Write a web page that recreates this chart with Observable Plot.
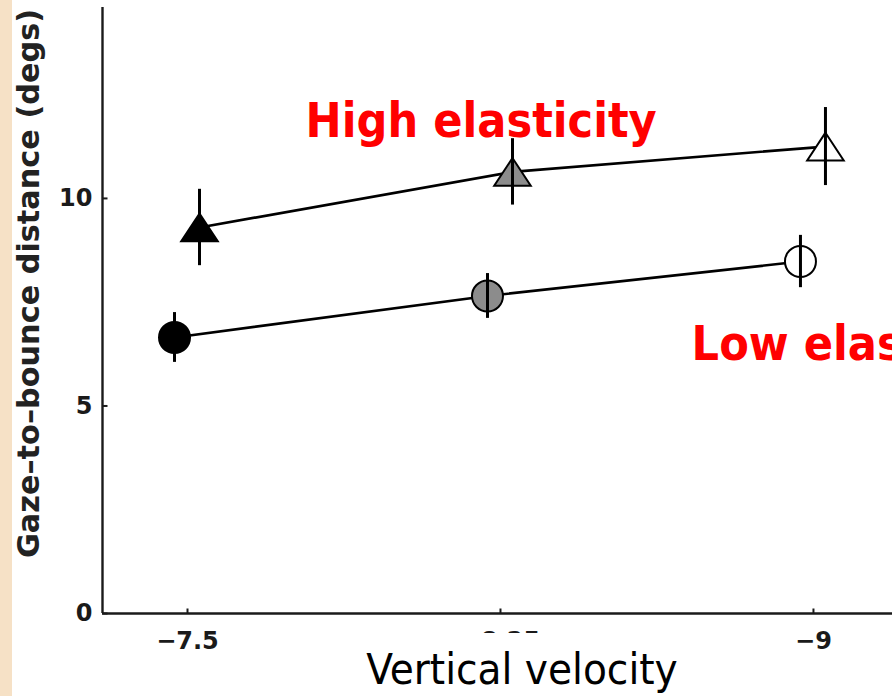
<!DOCTYPE html>
<html>
<head>
<meta charset="utf-8">
<script src="https://cdn.jsdelivr.net/npm/d3@7"></script>
<script src="https://cdn.jsdelivr.net/npm/@observablehq/plot@0.6"></script>
<style>
  html, body { margin: 0; padding: 0; background: #fff; }
  #wrap { position: relative; width: 892px; height: 696px; overflow: hidden; background: #fff; }
  #strip { position: absolute; left: 0; top: 0; width: 12px; height: 696px; background: #f6e1c6; }
  #chart { position: absolute; left: 0; top: 0; }
  #xlabel {
    position: absolute; left: 352px; top: 633px; width: 340px; height: 49px;
    padding-top: 12px; line-height: 49px; background: #fff; color: #000;
    font-family: "DejaVu Sans Condensed", "DejaVu Sans", sans-serif; font-stretch: condensed;
    font-size: 43.5px; text-align: center; white-space: nowrap;
  }
</style>
</head>
<body>
<div id="wrap">
  <div id="chart"></div>
  <div id="strip"></div>
  <div id="xlabel">Vertical velocity</div>
</div>
<script>
// ---- data ----
const velocities = [-7.5, -8.25, -9];
const xTickLabels = ["−7.5", "−8.25", "−9"];
const yTicks = [0, 5, 10];
const xDomain = [-7.2963, -9.1894];
const yDomain = [0, 14.6];

const highMeans = [9.3, 10.64, 11.25];
const highErrors = [0.92, 0.8, 0.94];
const lowMeans = [6.65, 7.65, 8.48];
const lowErrors = [0.6, 0.54, 0.63];

const annotationLabels = ["High elasticity", "Low elasticity"];
const annotationX = [-7.783, -8.708];
const annotationY = [11.47, 6.1];

const yLabel = "Gaze–to–bounce distance (degs)";

// ---- build tables ----
const high = velocities.map((v, i) => ({v, m: highMeans[i], e: highErrors[i]}));
const low = velocities.map((v, i) => ({v, m: lowMeans[i], e: lowErrors[i]}));
const annotations = annotationLabels.map((t, i) => ({t, x: annotationX[i], y: annotationY[i]}));

// MATLAB-like '^' marker, centred on its bounding box
const triangleSymbol = {
  draw(ctx, size) {
    const r = Math.sqrt(size / Math.PI);
    const h = r * 1.1, w = r * 1.45;
    ctx.moveTo(0, -h);
    ctx.lineTo(w, h);
    ctx.lineTo(-w, h);
    ctx.closePath();
  }
};
// inward tick marks (MATLAB style)
const tickRight = {draw(ctx) { ctx.moveTo(0, 0); ctx.lineTo(5, 0); }};
const tickUp = {draw(ctx) { ctx.moveTo(0, 0); ctx.lineTo(0, -5); }};

const markerFill = ["#000000", "#8c8c8c", "#ffffff"];
const axisColor = "#1a1a1a";

const series = (data, dx, symbol, r) => [
  Plot.line(data, {x: "v", y: "m", dx, stroke: "#000", strokeWidth: 2.7}),
  Plot.dot(data, {x: "v", y: "m", dx, symbol, r, fill: "v", stroke: "#000", strokeWidth: 2}),
  Plot.ruleX(data, {x: "v", y1: d => d.m - d.e, y2: d => d.m + d.e, dx, stroke: "#000", strokeWidth: 3})
];

const chart = Plot.plot({
  width: 892,
  height: 696,
  marginLeft: 102,
  marginRight: 0,
  marginTop: 7,
  marginBottom: 83,
  style: {background: "transparent", fontFamily: "DejaVu Sans", overflow: "visible"},
  x: {domain: xDomain},
  y: {domain: yDomain},
  color: {type: "ordinal", domain: velocities, range: markerFill},
  marks: [
    // axis lines
    Plot.ruleX([xDomain[0]], {y1: yDomain[0], y2: yDomain[1], stroke: axisColor, strokeWidth: 2.4}),
    Plot.ruleY([yDomain[0]], {x1: xDomain[0], x2: xDomain[1], stroke: axisColor, strokeWidth: 2.4}),
    // inward ticks
    Plot.dot(yTicks, {x: () => xDomain[0], y: d => d, symbol: tickRight, fill: "none", stroke: axisColor, strokeWidth: 2}),
    Plot.dot(velocities, {x: d => d, y: () => yDomain[0], symbol: tickUp, fill: "none", stroke: axisColor, strokeWidth: 2}),
    // tick labels
    Plot.axisY({
      ticks: yTicks, tickFormat: d => String(d), tickSize: 0, tickPadding: 10,
      fill: axisColor, fontSize: 24, fontWeight: "bold", label: null
    }),
    Plot.axisX({
      ticks: velocities, tickFormat: d => xTickLabels[velocities.indexOf(d)],
      tickSize: 0, tickPadding: 18,
      fill: axisColor, fontSize: 24, fontWeight: "bold", label: null
    }),
    Plot.text([yLabel], {
      frameAnchor: "left", rotate: -90, dx: -73, dy: -27,
      text: d => d, fontSize: 30.3, fontWeight: "bold", fill: "#222",
      textAnchor: "middle", lineAnchor: "middle"
    }),
    ...series(high, 12, triangleSymbol, 12.6),
    ...series(low, -13, "circle", 15.5),
    Plot.text(annotations, {
      x: "x", y: "y", text: "t", textAnchor: "start", lineAnchor: "bottom",
      fill: "#ff0000", fontSize: 48, fontWeight: "bold",
      fontFamily: "DejaVu Sans Condensed"
    })
  ]
});

document.getElementById("chart").appendChild(chart);
</script>
</body>
</html>
